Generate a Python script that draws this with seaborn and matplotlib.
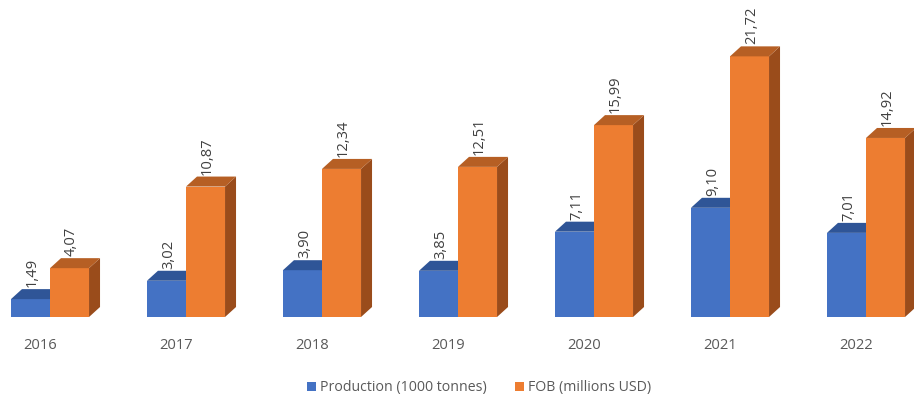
import numpy as np
import pandas as pd
import matplotlib
matplotlib.use("Agg")
import matplotlib.pyplot as plt
from matplotlib.patches import Polygon, Patch
from matplotlib.transforms import ScaledTranslation
import seaborn as sns

# --- data -------------------------------------------------------------
years = ["2016", "2017", "2018", "2019", "2020", "2021", "2022"]
production = [1.49, 3.02, 3.90, 3.85, 7.11, 9.10, 7.01]      # 1000 tonnes
fob = [4.07, 10.87, 12.34, 12.51, 15.99, 21.72, 14.92]       # millions USD
series_names = ["Production (1000 tonnes)", "FOB (millions USD)"]

df = pd.DataFrame({
    "year": years * 2,
    "value": production + fob,
    "series": [series_names[0]] * len(years) + [series_names[1]] * len(years),
})

# --- style ------------------------------------------------------------
sns.set_style("white")
plt.rcParams["font.family"] = ["Open Sans", "DejaVu Sans"]

front = ["#4472C4", "#ED7D31"]
top = ["#2F5597", "#B65F24"]
side = ["#2A4C88", "#9A4C1B"]
label_grey = "#595959"
value_grey = "#404040"

DPI = 100
W, H = 914, 401
fig = plt.figure(figsize=(W / DPI, H / DPI), dpi=DPI)

base_px = 317          # baseline, pixels from top
px_per_unit = 12.0     # vertical scale
step_px = 136.0        # distance between year groups
first_px = 50.0        # centre of the first group
ymax = 25.0
ax_h = ymax * px_per_unit
ax = fig.add_axes([0, (H - base_px) / H, 1, ax_h / H])

sns.barplot(data=df, x="year", y="value", hue="series", palette=front,
            saturation=1, width=0.574, linewidth=0, ax=ax, legend=False)

ax.set_xlim(-first_px / step_px, (W - first_px) / step_px)
ax.set_ylim(0, ymax)
sns.despine(ax=ax, left=True, bottom=True)
ax.set_yticks([])
ax.set_xlabel("")
ax.set_ylabel("")

# depth of the extruded bars, in pixels -> data units
dx_px, dy_px = 11.0, 10.0
dx = dx_px / step_px
dy = dy_px / px_per_unit

for s, container in enumerate(ax.containers):
    z = 2 + s
    for bar in container:
        bar.set_zorder(z)
        bar.set_clip_on(False)
        x0 = bar.get_x()
        w = bar.get_width()
        h = bar.get_height()
        x1 = x0 + w
        top_face = Polygon([(x0, h), (x1, h), (x1 + dx, h + dy), (x0 + dx, h + dy)],
                           closed=True, facecolor=top[s], edgecolor="none",
                           zorder=z, clip_on=False)
        side_face = Polygon([(x1, 0), (x1 + dx, dy), (x1 + dx, h + dy), (x1, h)],
                            closed=True, facecolor=side[s], edgecolor="none",
                            zorder=z, clip_on=False)
        ax.add_patch(side_face)
        ax.add_patch(top_face)
        ax.annotate(f"{h:.2f}".replace(".", ","), xy=(x0 + w / 2, h),
                    xytext=(2, dy_px + 2), textcoords="offset pixels",
                    rotation=90, ha="center", va="bottom",
                    fontsize=10.6, color=value_grey, zorder=10)

# year labels below the groups
ax.tick_params(axis="x", length=0, pad=15, labelsize=10.6, labelcolor=label_grey)
shift = ScaledTranslation(-10 / DPI, 0, fig.dpi_scale_trans)
for lab in ax.get_xticklabels():
    lab.set_transform(lab.get_transform() + shift)

# legend along the bottom
handles = [Patch(facecolor=front[i], edgecolor="none", label=series_names[i])
           for i in range(2)]
fig.legend(handles=handles, loc="center", bbox_to_anchor=(0.5 + 22 / W, 13 / H),
           ncol=2, frameon=False, fontsize=10.2, labelcolor=label_grey,
           handlelength=0.62, handleheight=0.62, handletextpad=0.3,
           columnspacing=2.0)

fig.savefig("out.png", dpi=DPI)
